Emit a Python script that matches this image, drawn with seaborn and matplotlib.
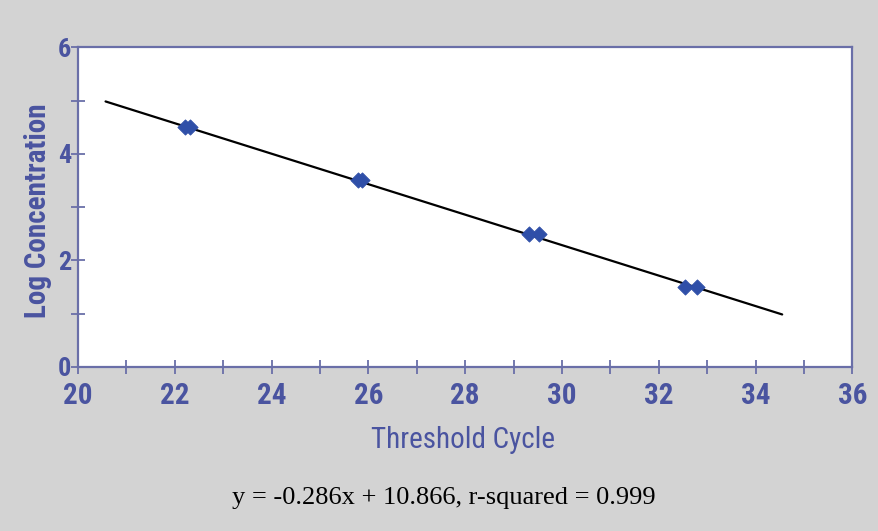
import matplotlib
matplotlib.use("Agg")
import matplotlib.pyplot as plt
import seaborn as sns
import numpy as np
import pandas as pd
from matplotlib.ticker import MultipleLocator

# Data
threshold_cycle = [22.21, 22.31, 25.78, 25.86, 29.32, 29.52, 32.54, 32.79]
log_concentration = [4.5, 4.5, 3.5, 3.5, 2.5, 2.5, 1.5, 1.5]
slope = -0.286
intercept = 10.866
fit_x = [20.57, 34.55]
x_ticks = [20, 22, 24, 26, 28, 30, 32, 34, 36]
y_ticks = [0, 2, 4, 6]
x_label = "Threshold Cycle"
y_label = "Log Concentration"
equation = "y = -0.286x + 10.866, r-squared = 0.999"

df = pd.DataFrame({"Threshold Cycle": threshold_cycle, "Log Concentration": log_concentration})
fit_df = pd.DataFrame({"x": fit_x, "y": [slope * v + intercept for v in fit_x]})

sns.set_style("white")
plt.rcParams['font.family'] = ['Roboto Condensed', 'DejaVu Sans']

bg = "#d3d3d3"
axis_col = "#6a6fa8"
text_col = "#4a54a0"

fig = plt.figure(figsize=(8.79, 5.31), dpi=100, facecolor=bg)
ax = fig.add_axes([0.0887, 0.309, 0.881, 0.602])
ax.set_facecolor("white")

sns.lineplot(data=fit_df, x="x", y="y", ax=ax, color="black", lw=1.6, zorder=2)
sns.scatterplot(data=df, x="Threshold Cycle", y="Log Concentration", ax=ax,
                marker="D", s=60, color="#2f4fa8", edgecolor="#2f4fa8", zorder=3)

ax.set_xlim(20, 36)
ax.set_ylim(0, 6)
ax.set_xticks(x_ticks)
ax.set_yticks(y_ticks)
ax.xaxis.set_minor_locator(MultipleLocator(1))
ax.yaxis.set_minor_locator(MultipleLocator(1))
ax.tick_params(axis="both", which="both", direction="inout", color=axis_col, width=1.3,
               bottom=True, left=True)
ax.tick_params(axis="both", which="major", length=10, labelcolor=text_col)
ax.tick_params(axis="both", which="minor", length=10)
ax.tick_params(axis="x", which="major", pad=6, labelsize=21)
ax.tick_params(axis="y", which="major", pad=0, labelsize=19)
for lab in ax.get_xticklabels() + ax.get_yticklabels():
    lab.set_fontweight("bold")

for side, sp in ax.spines.items():
    sp.set_visible(True)
    sp.set_color(axis_col)
    sp.set_linewidth(1.6)

ax.set_xlabel(x_label, fontsize=21, color=text_col, va="center")
ax.xaxis.set_label_coords(0.497, -0.228)
ax.set_ylabel(y_label, fontsize=21, color=text_col, fontweight="bold", va="center")
ax.yaxis.set_label_coords(-0.052, 0.4875)

fig.text(0.505, 0.063, equation, ha="center", va="center", fontsize=19,
         color="black", family=["Liberation Serif", "DejaVu Serif"])

fig.savefig("out.png", dpi=100, facecolor=bg)
